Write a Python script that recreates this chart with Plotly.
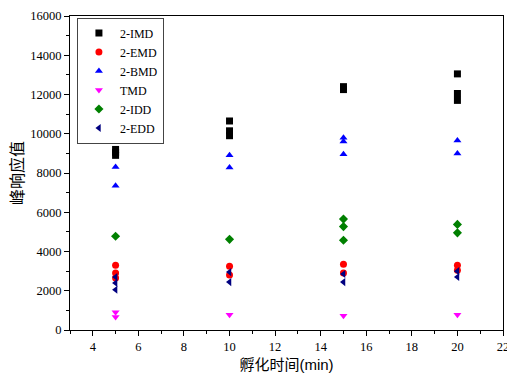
import plotly.graph_objects as go

x_imd = [5, 5, 5, 10, 10, 10, 15, 15, 20, 20, 20]
y_imd = [9200, 9050, 8900, 10650, 10150, 9900, 12250, 12400, 13050, 12050, 11700]
x_emd = [5, 5, 5, 10, 10, 15, 15, 20, 20]
y_emd = [3300, 2900, 2650, 3250, 2800, 3350, 2900, 3300, 3050]
x_bmd = [5, 5, 10, 10, 15, 15, 15, 20, 20]
y_bmd = [8300, 7350, 8900, 8280, 9800, 9600, 8950, 9650, 9000]
x_tmd = [5, 5, 10, 15, 20]
y_tmd = [900, 660, 780, 730, 780]
x_idd = [5, 10, 15, 15, 15, 20, 20]
y_idd = [4780, 4620, 5650, 5270, 4570, 5380, 4950]
x_edd = [5, 5, 5, 10, 10, 15, 15, 20, 20]
y_edd = [2700, 2400, 2050, 2950, 2440, 2850, 2440, 3000, 2700]

series = [
    ("2-IMD", x_imd, y_imd, "square", "black"),
    ("2-EMD", x_emd, y_emd, "circle", "red"),
    ("2-BMD", x_bmd, y_bmd, "triangle-up", "blue"),
    ("TMD", x_tmd, y_tmd, "triangle-down", "magenta"),
    ("2-IDD", x_idd, y_idd, "diamond", "green"),
    ("2-EDD", x_edd, y_edd, "triangle-left", "navy"),
]

fig = go.Figure()
for name, xs, ys, sym, col in series:
    fig.add_trace(go.Scatter(x=xs, y=ys, mode="markers", name=name,
                             marker=dict(symbol=sym, color=col, size=7)))

serif = "Liberation Serif"
tickfont = dict(family=serif, size=12.5, color="black")
fig.update_layout(
    width=507, height=374,
    margin=dict(l=70, r=4, t=16, b=44),
    font=dict(family=serif, size=13, color="black"),
    plot_bgcolor="white", paper_bgcolor="white",
    showlegend=True,
    legend=dict(x=0.016, y=0.995, xanchor="left", yanchor="top",
                bordercolor="#444", borderwidth=1, bgcolor="white",
                font=dict(family=serif, size=12, color="black"),
                itemsizing="trace", itemwidth=32, tracegroupgap=0),
    xaxis=dict(range=[3, 22], dtick=2, tick0=0, showgrid=False, zeroline=False,
               showline=True, linecolor="black", linewidth=1, mirror=True,
               ticks="outside", ticklen=5, tickcolor="black", automargin=False,
               ticklabeloverflow="allow",
               minor=dict(dtick=1, ticks="outside", ticklen=3, tickcolor="black"),
               tickfont=tickfont,
               title=dict(text="孵化时间<span style='font-family:Liberation Sans'>(min)</span>",
                          font=dict(family="Noto Sans CJK SC", size=15, color="black"),
                          standoff=7)),
    yaxis=dict(range=[0, 16000], dtick=2000, showgrid=False, zeroline=False,
               showline=True, linecolor="black", linewidth=1, mirror=True,
               ticks="outside", ticklen=5, tickcolor="black", automargin=False,
               tickformat="d", ticklabeloverflow="allow",
               minor=dict(dtick=1000, ticks="outside", ticklen=3, tickcolor="black"),
               tickfont=tickfont,
               title=dict(text="峰响应值",
                          font=dict(family="Noto Sans CJK SC", size=16, color="black"),
                          standoff=2)),
)
fig.write_html("out.html", config={"displayModeBar": False},
               post_script="document.body.style.margin='0';document.body.style.padding='0';")
